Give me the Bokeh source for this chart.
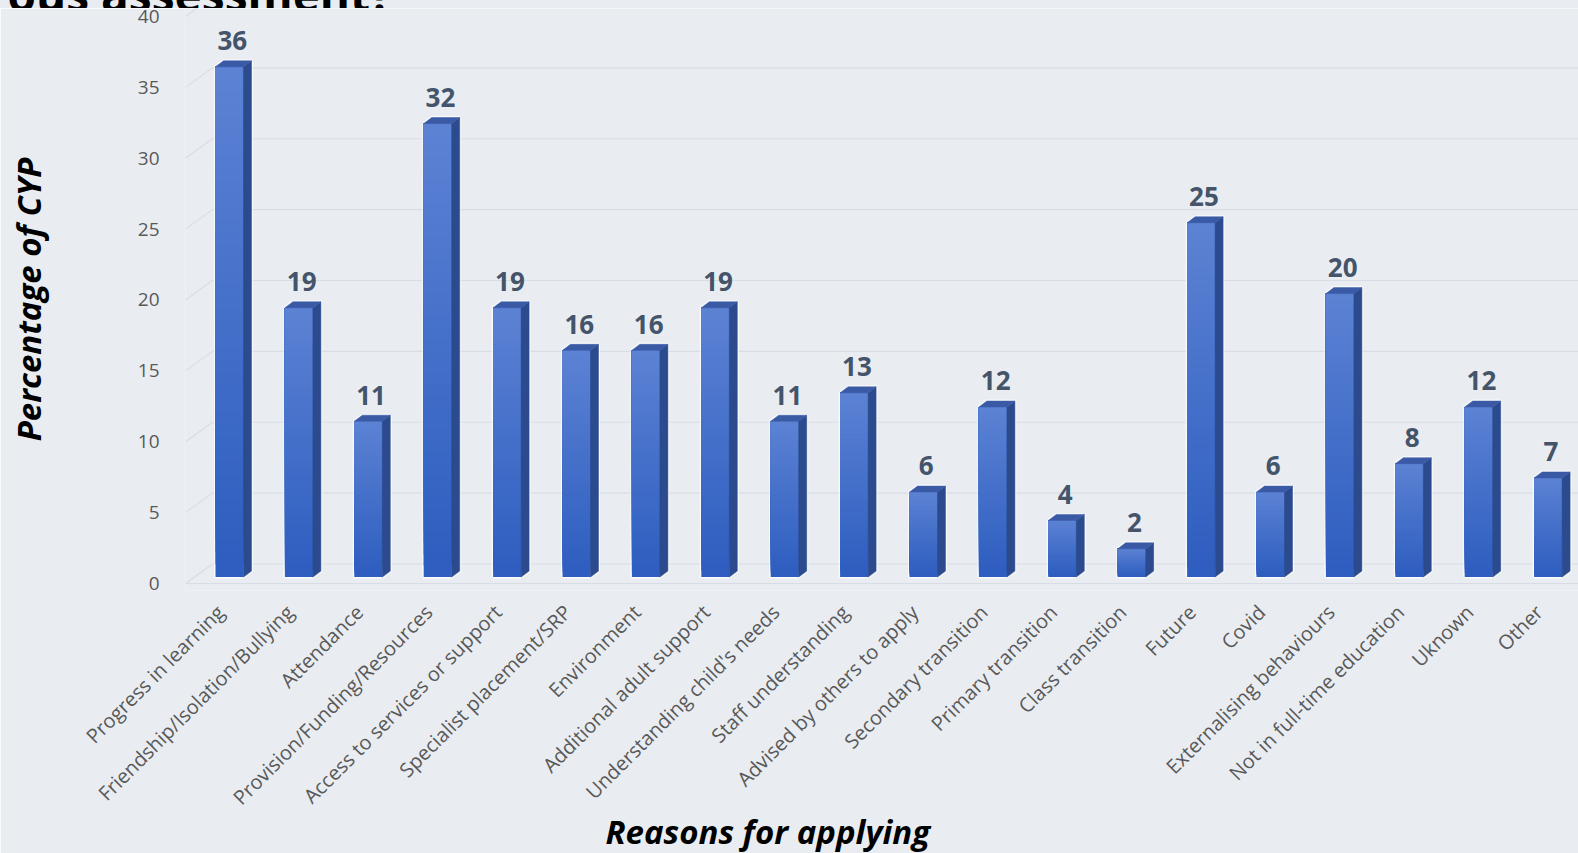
import numpy as np
from bokeh.plotting import figure
from bokeh.layouts import column
from bokeh.models import Range1d, FixedTicker, CustomJSTickFormatter, ColumnDataSource, Title, Div
from bokeh.embed import file_html
from bokeh.resources import INLINE
from bokeh.core.properties import value

# ---------------- data ----------------
categories = [
    "Progress in learning", "Friendship/Isolation/Bullying", "Attendance",
    "Provision/Funding/Resources", "Access to services or support",
    "Specialist placement/SRP", "Environment", "Additional adult support",
    "Understanding child's needs", "Staff understanding", "Advised by others to apply",
    "Secondary transition", "Primary transition", "Class transition", "Future",
    "Covid", "Externalising behaviours", "Not in full-time education", "Uknown", "Other",
]
percentages = [36, 19, 11, 32, 19, 16, 16, 19, 11, 13, 6, 12, 4, 2, 25, 6, 20, 8, 12, 7]
y_ticks = [0, 5, 10, 15, 20, 25, 30, 35, 40]

title_text = "ous assessment?"
x_title = "Reasons for applying"
y_title = "Percentage of CYP"

# ---------------- style / geometry ----------------
BG = "#e9edf2"
W, H = 1578, 845
TOP_STRIP = 8
X0, X1 = -0.634, 19.438
Y0, Y1 = -0.494, 40.564
FRAME_H = 582
PX_X = (W - 185) / (X1 - X0)
PX_Y = FRAME_H / (Y1 - Y0)

hw = 14 / PX_X          # half width of the front face
dxs = 8 / PX_X          # depth (x)
dys = 6 / PX_Y          # depth (y)
base = 0.45             # bar floor
wall_dx0 = X0           # floor front edge
wall_dx1 = wall_dx0 + 27 / PX_X
wall_dy = 19.5 / PX_Y
label_shift = -9 / PX_X  # category label anchor relative to bar centre
value_gap = 1.62         # value label offset above the bar value

p = figure(width=W, height=H, output_backend="svg", toolbar_location=None,
           x_range=Range1d(X0, X1), y_range=Range1d(Y0, Y1))
p.min_border_left = 185
p.min_border_right = 0
p.min_border_top = 0
p.min_border_bottom = H - FRAME_H
p.background_fill_color = BG
p.border_fill_color = BG
p.outline_line_color = None
p.xgrid.visible = False
p.ygrid.visible = False

# ---- back wall / floor grid lines (from tick values) ----
grid_col = "#d8dde5"
yt = np.array(y_ticks, dtype=float)
p.segment(x0=np.full(len(yt), wall_dx1), y0=yt + wall_dy, x1=np.full(len(yt), X1 + 1), y1=yt + wall_dy,
          line_color=grid_col, line_width=1.2)
p.segment(x0=np.full(len(yt), wall_dx0), y0=yt, x1=np.full(len(yt), wall_dx1), y1=yt + wall_dy,
          line_color=grid_col, line_width=1.2)
p.segment(x0=[wall_dx0], y0=[0], x1=[X1 + 1], y1=[0], line_color=grid_col, line_width=1.2)

# ---- bars ----
xs = np.arange(len(categories), dtype=float)
vals = np.array(percentages, dtype=float)

# light halo around each column
halo_x, halo_y = [], []
for x, v in zip(xs, vals):
    halo_x.append([x - hw, x - hw, x - hw + dxs, x + hw + dxs, x + hw + dxs, x + hw])
    halo_y.append([base, base + v, base + v + dys, base + v + dys, base + dys, base])
p.patches(halo_x, halo_y, fill_color=None, line_color="#ffffff", line_alpha=0.7, line_width=3)

# front faces with vertical gradient (stacked overlapping rects: no seams)
N = 40
top_rgb = np.array([0x5c, 0x82, 0xd4])
bot_rgb = np.array([0x2e, 0x5e, 0xc0])
L, R, B, T, C = [], [], [], [], []
for x, v in zip(xs, vals):
    h = v / N
    for k in range(N):
        t = k / (N - 1)
        rgb = (bot_rgb + (top_rgb - bot_rgb) * t).astype(int)
        L.append(x - hw); R.append(x + hw)
        B.append(base + k * h); T.append(base + v)
        C.append("#%02x%02x%02x" % tuple(rgb))
p.quad(left=L, right=R, bottom=B, top=T, fill_color=C, line_color=None)

# side and top faces
side_x, side_y = [], []
top_x, top_y = [], []
for x, v in zip(xs, vals):
    side_x.append([x + hw, x + hw, x + hw + dxs, x + hw + dxs])
    side_y.append([base, base + v, base + v + dys, base + dys])
    top_x.append([x - hw, x + hw, x + hw + dxs, x - hw + dxs])
    top_y.append([base + v, base + v, base + v + dys, base + v + dys])
p.patches(side_x, side_y, fill_color="#2b4b8e", line_color="#2b4b8e", line_width=0.5)
p.patches(top_x, top_y, fill_color="#3a5aa6", line_color="#3a5aa6", line_width=0.5)

# value labels
src = ColumnDataSource(dict(x=xs + 0.04, y=vals + value_gap, txt=[str(v) for v in percentages]))
p.text(x="x", y="y", text="txt", source=src, text_align="center", text_baseline="bottom",
       text_font=value("Open Sans"), text_font_style="bold", text_font_size="26px",
       text_color="#44546a")

# ---- axes ----
ya = p.yaxis[0]
ya.ticker = FixedTicker(ticks=y_ticks)
ya.axis_line_color = None
ya.major_tick_line_color = None
ya.minor_tick_line_color = None
ya.major_label_standoff = 20
ya.major_label_text_font = "Open Sans"
ya.major_label_text_font_size = "19px"
ya.major_label_text_color = "#595959"
ya.axis_label = y_title
ya.axis_label_standoff = 84
ya.axis_label_text_font = "Open Sans"
ya.axis_label_text_font_style = "bold italic"
ya.axis_label_text_font_size = "33px"
ya.axis_label_text_color = "#000000"

xa = p.xaxis[0]
xa.ticker = FixedTicker(ticks=list(xs + label_shift))
xa.formatter = CustomJSTickFormatter(args=dict(labels=categories, shift=label_shift),
                                     code="return labels[Math.round(tick - shift)];")
xa.major_label_orientation = np.pi / 4
xa.axis_line_color = None
xa.major_tick_line_color = None
xa.minor_tick_line_color = None
xa.major_label_standoff = 12
xa.major_label_text_font = "Open Sans"
xa.major_label_text_font_size = "20px"
xa.major_label_text_color = "#595959"

p.add_layout(Title(text=x_title, align="left", offset=605 - 185, standoff=-30,
                   vertical_align="middle",
                   text_font="Open Sans", text_font_style="bold italic", text_font_size="33px",
                   text_color="#000000"), "below")

# ---- clipped title strip at the very top ----
title_html = (
    '<div style="width:392px;height:%dpx;display:flex;justify-content:flex-end;overflow:visible;">'
    '<span style="flex-shrink:0;white-space:nowrap;font-family:\'Open Sans\';font-weight:bold;'
    'font-size:46px;line-height:46px;margin-top:-34px;color:#000000;">%s</span></div>'
) % (TOP_STRIP, title_text)
title_div = Div(text=title_html, width=W, height=TOP_STRIP, margin=(0, 0, 0, 0),
                styles={"overflow": "hidden", "background-color": BG})

layout = column(title_div, p, spacing=0)
open("out.html", "w").write(file_html(layout, INLINE))
